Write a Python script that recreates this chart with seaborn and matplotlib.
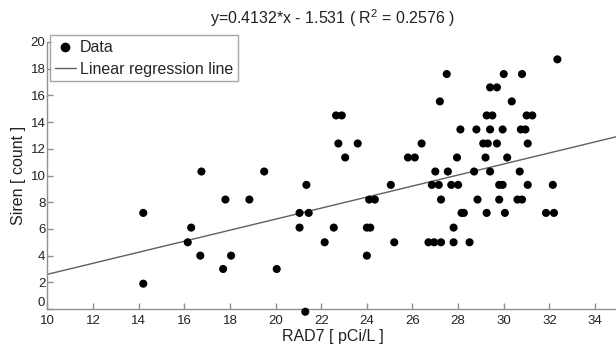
import matplotlib
matplotlib.use("Agg")
import matplotlib.pyplot as plt
from matplotlib.lines import Line2D
import seaborn as sns
import numpy as np
import pandas as pd

# RAD7 readings (pCi/L) vs Siren counts
rad7 = [14.2, 14.2, 16.15, 16.3, 16.75, 16.7, 17.8, 17.7, 18.05, 18.85,
        19.5, 20.05, 21.05, 21.05, 21.35, 21.45, 21.3, 22.15, 22.55, 22.65,
        22.9, 22.75, 23.05, 23.6, 24.0, 24.15, 24.0, 24.1, 24.35, 25.05,
        25.2, 25.8, 26.1, 26.4, 26.7, 26.95, 27.25, 26.85, 27.15, 27.0,
        27.55, 27.25, 27.2, 27.5, 27.7, 28.0, 27.95, 28.1, 27.8, 27.8,
        28.15, 28.25, 28.5, 28.7, 28.8, 28.85, 29.1, 29.3, 29.2, 29.25,
        29.25, 29.5, 29.4, 29.4, 29.4, 29.7, 29.7, 29.8, 29.8, 29.95,
        29.95, 30.0, 30.05, 30.15, 30.35, 30.6, 30.8, 30.7, 30.75, 30.95,
        30.8, 31.0, 31.25, 31.05, 31.05, 31.85, 32.2, 32.15, 32.35]
siren = [7.2, 1.9, 5.0, 6.1, 10.3, 4.0, 8.2, 3.0, 4.0, 8.2,
         10.3, 3.0, 7.2, 6.1, 9.3, 7.2, -0.2, 5.0, 6.1, 14.5,
         14.5, 12.4, 11.35, 12.4, 6.1, 6.1, 4.0, 8.2, 8.2, 9.3,
         5.0, 11.35, 11.35, 12.4, 5.0, 5.0, 5.0, 9.3, 9.3, 10.3,
         10.3, 8.2, 15.55, 17.6, 9.3, 9.3, 11.35, 13.45, 6.1, 5.0,
         7.2, 7.2, 5.0, 10.3, 13.45, 8.2, 12.4, 12.4, 11.35, 7.2,
         14.5, 14.5, 13.45, 10.3, 16.6, 16.6, 12.4, 8.2, 9.3, 9.3,
         13.45, 17.6, 7.2, 11.35, 15.55, 8.2, 8.2, 10.3, 13.45, 13.45,
         17.6, 14.5, 14.5, 12.4, 9.3, 7.2, 7.2, 9.3, 18.7]

slope = 0.4132
intercept = -1.531
r2 = 0.2576

df = pd.DataFrame({"RAD7": rad7, "Siren": siren})

sns.set_style("ticks")
plt.rcParams["font.family"] = ["Liberation Sans", "DejaVu Sans"]
plt.rcParams["mathtext.fontset"] = "custom"
plt.rcParams["mathtext.rm"] = "Liberation Sans"
plt.rcParams["mathtext.it"] = "Liberation Sans"

fig = plt.figure(figsize=(6.16, 3.5), dpi=100)
ax = fig.add_axes([0.077, 0.117, 0.926, 0.763])

xfit = np.array([10, 35])
ax.plot(xfit, slope * xfit + intercept, color="#606060", lw=1.0, zorder=2)

sns.scatterplot(data=df, x="RAD7", y="Siren", ax=ax, color="black",
                s=34, edgecolor="none", clip_on=False, zorder=3, legend=False)

ax.set_xlim(10, 35)
ax.set_ylim(0, 20)
ax.set_xticks(range(10, 35, 2))
ax.set_yticks(range(0, 21, 2))

for side in ["top", "right"]:
    ax.spines[side].set_visible(False)
for side in ["left", "bottom"]:
    ax.spines[side].set_color("#909090")
    ax.spines[side].set_linewidth(1.0)
ax.tick_params(direction="in", length=4, width=1, color="#909090",
               labelsize=9.5, labelcolor="#222222")
ax.tick_params(axis="y", pad=1.5)
ax.tick_params(axis="x", pad=4)
# the "0" sits a bit high in the original so it doesn't collide with "10"
ax.get_yticklabels()[0].set_verticalalignment("bottom")

ax.set_xlabel("RAD7 [ pCi/L ]", fontsize=11.5, color="#222222", labelpad=2)
ax.set_ylabel("Siren [ count ]", fontsize=11.5, color="#222222", labelpad=3)
ax.set_title(f"y={slope}*x - {abs(intercept)} ( R$^{{2}}$ = {r2} )",
             fontsize=11.5, color="#222222", pad=13)

handles = [Line2D([], [], marker="o", color="black", ls="none", markersize=6),
           Line2D([], [], color="#606060", lw=1.0)]
leg = ax.legend(handles, ["Data", "Linear regression line"], loc="upper left",
                bbox_to_anchor=(0.005, 1.025), fontsize=11.5, frameon=True,
                fancybox=False, edgecolor="#909090", handlelength=1.3,
                handletextpad=0.25, borderpad=0.3, labelspacing=0.4,
                borderaxespad=0)
leg.get_frame().set_linewidth(1.0)

fig.savefig("out.png", dpi=100)
